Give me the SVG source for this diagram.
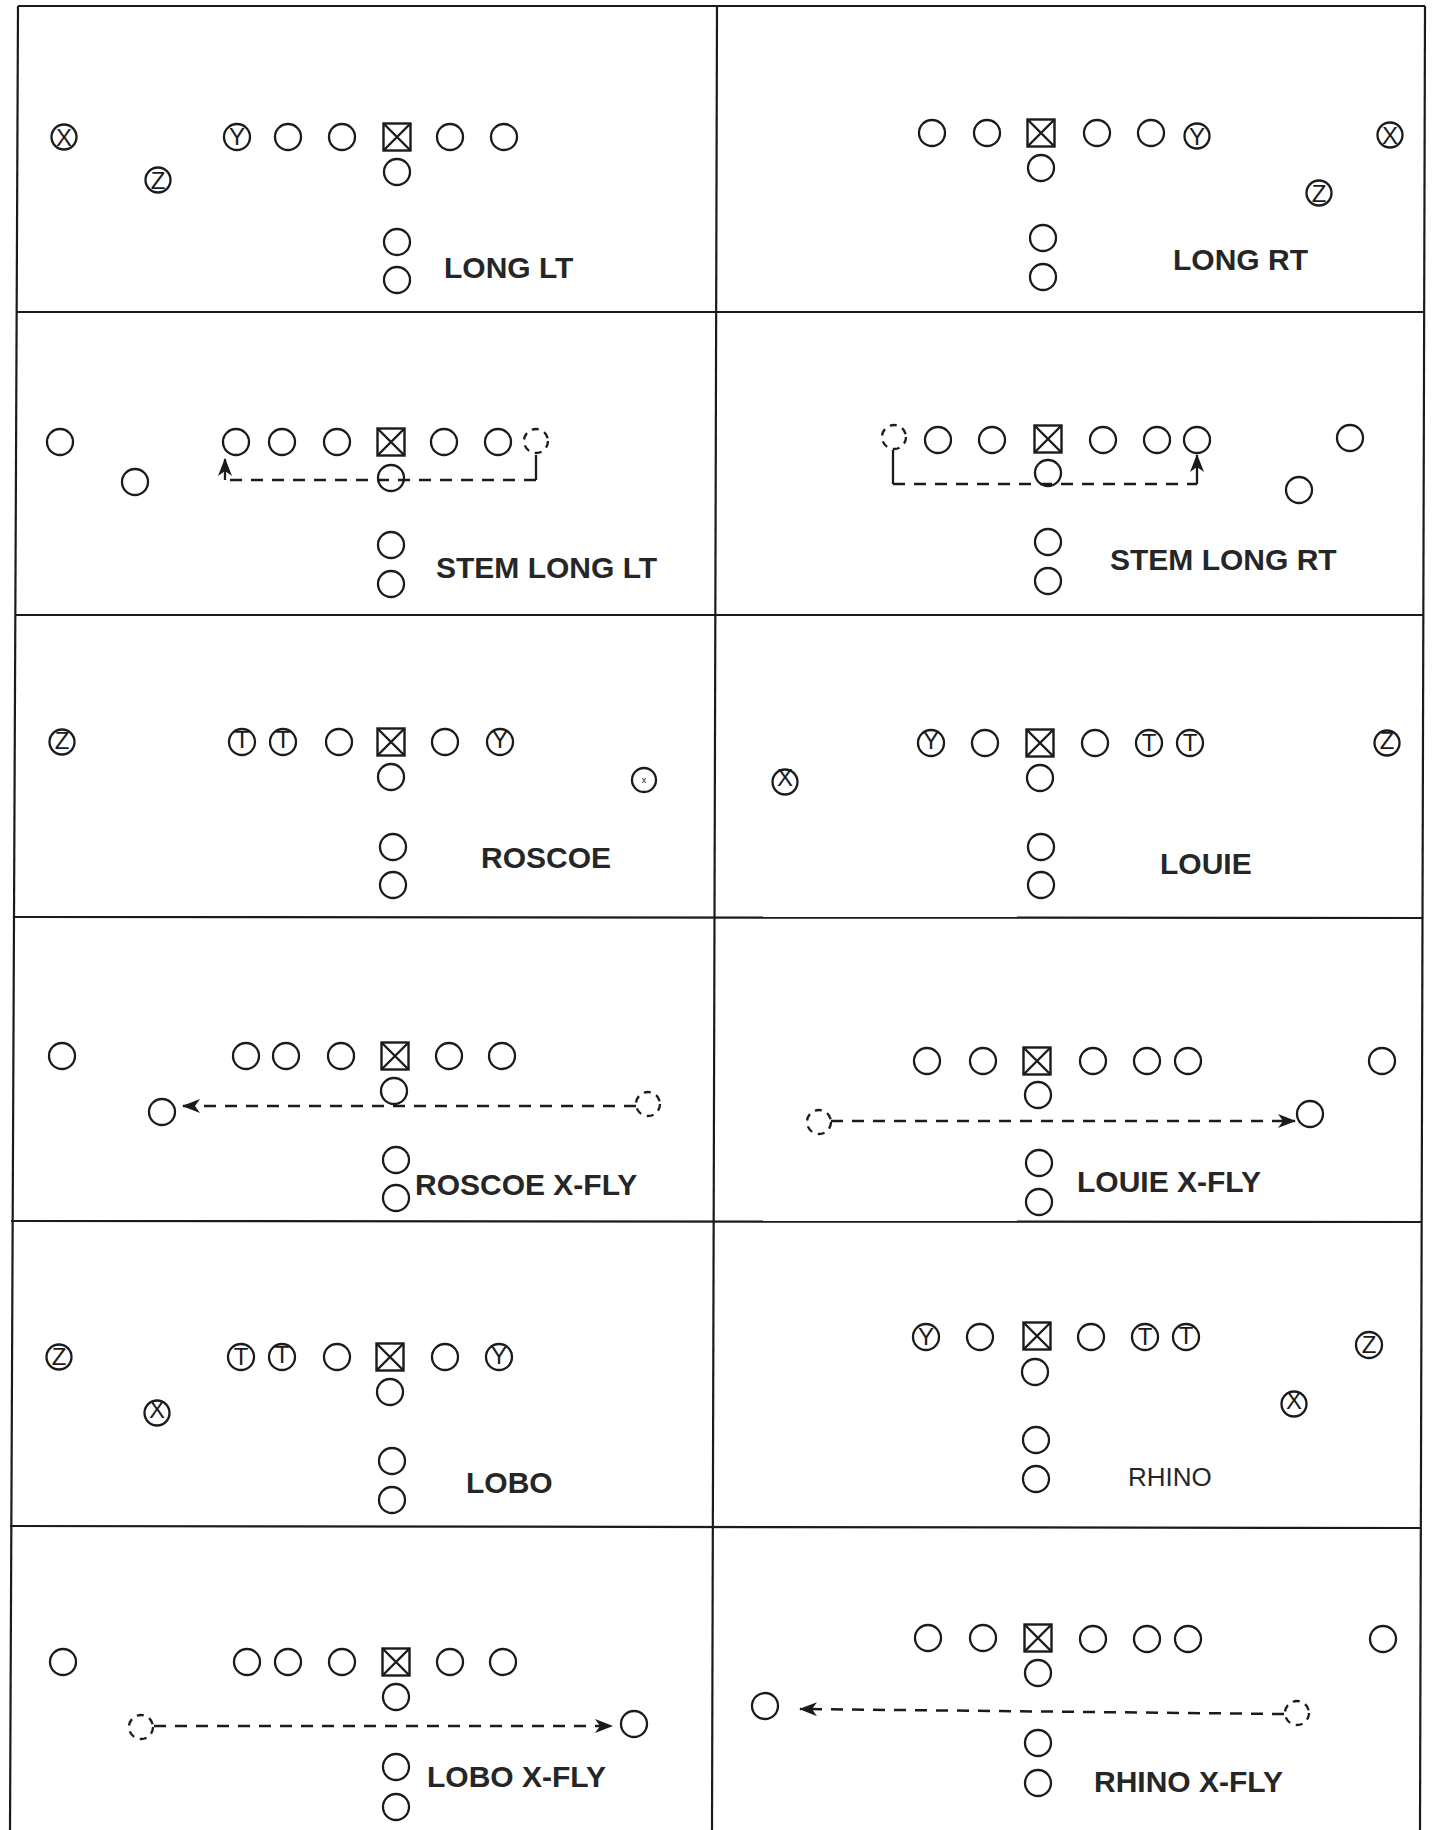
<svg xmlns="http://www.w3.org/2000/svg" width="1434" height="1830" viewBox="0 0 1434 1830">
<style>
.o{fill:none;stroke:#1b1b1b;stroke-width:2.3}
.dc{fill:none;stroke:#1b1b1b;stroke-width:2.3;stroke-dasharray:7 6}
.sq{fill:none;stroke:#1b1b1b;stroke-width:2.4}
.lt{font-family:'Liberation Sans',Arial,sans-serif;font-size:24px;fill:#1b1b1b;text-anchor:middle}
.sm{font-family:'Liberation Sans',Arial,sans-serif;font-size:9px;fill:#1b1b1b;text-anchor:middle}
.lb{font-family:'Liberation Sans',Arial,sans-serif;font-size:30px;font-weight:bold;fill:#262626}
.lr{font-family:'Liberation Sans',Arial,sans-serif;font-size:26px;fill:#262626}
.rt{fill:none;stroke:#1b1b1b;stroke-width:2.5;stroke-dasharray:12 9}
.rs{fill:none;stroke:#1b1b1b;stroke-width:2.3}
.fr{stroke:#1b1b1b;stroke-width:2.2;fill:none}
</style>
<defs>
<marker id="ah" viewBox="0 0 18 14" refX="17" refY="7" markerWidth="18" markerHeight="14" markerUnits="userSpaceOnUse" orient="auto"><path d="M0,0 L18,7 L0,14 L5,7 z" fill="#1b1b1b"/></marker>
<g id="sqm"><rect x="-13.5" y="-13.5" width="27" height="27"/><path d="M-13.5,-13.5 L13.5,13.5 M13.5,-13.5 L-13.5,13.5"/></g>
</defs>
<rect width="1434" height="1830" fill="#fff"/>
<g id="frame" class="fr">
<path d="M18,6 L1425,6"/>
<path d="M18,6 L10,1830"/>
<path d="M717,6 L712,1830"/>
<path d="M1425,6 L1420,1830"/>
<path d="M17,312 L1425,312"/>
<path d="M16,615 L1424,615"/>
<path d="M14,917 L1423,918"/>
<path d="M11,1221 L1422,1222"/>
<path d="M10,1526 L1421,1528"/>
</g>

<g id="connectors">
<path class="rt" d="M536,480 H225"/>
<path class="rs" d="M536,455 V480"/>
<path class="rs" d="M225,480 V459" marker-end="url(#ah)"/>
<path class="rt" d="M893,484 H1197"/>
<path class="rs" d="M893,450 V484"/>
<path class="rs" d="M1197,484 V455" marker-end="url(#ah)"/>
<path class="rt" d="M636,1106 H183" marker-end="url(#ah)"/>
<path class="rt" d="M831,1121 H1295" marker-end="url(#ah)"/>
<path class="rt" d="M154,1726 H612" marker-end="url(#ah)"/>
<path class="rt" d="M1284,1714 L800,1709" marker-end="url(#ah)"/>
</g>

<!-- Panel 1 LONG LT -->
<g id="p1">
<g id="p1-x"><circle class="o" cx="64" cy="137" r="12.5"/><text class="lt" x="64" y="145.5">X</text></g>
<g id="p1-z"><circle class="o" cx="158" cy="180" r="12.5"/><text class="lt" x="158" y="188.5">Z</text></g>
<g id="p1-y"><circle class="o" cx="237" cy="137" r="13"/><text class="lt" x="237" y="145">Y</text></g>
<g id="p1-o1"><circle class="o" cx="288" cy="137" r="13"/></g>
<g id="p1-o2"><circle class="o" cx="342" cy="137" r="13"/></g>
<g id="p1-c"><use href="#sqm" class="sq" x="397" y="137"/></g>
<g id="p1-o3"><circle class="o" cx="450" cy="137" r="13"/></g>
<g id="p1-o4"><circle class="o" cx="504" cy="137" r="13"/></g>
<g id="p1-q"><circle class="o" cx="397" cy="172" r="13"/></g>
<g id="p1-b1"><circle class="o" cx="397" cy="242" r="13"/></g>
<g id="p1-b2"><circle class="o" cx="397" cy="280" r="13"/></g>
<text id="p1-label" class="lb" x="444" y="278">LONG LT</text>
</g>

<!-- Panel 2 LONG RT -->
<g id="p2">
<g id="p2-o1"><circle class="o" cx="932" cy="133" r="13"/></g>
<g id="p2-o2"><circle class="o" cx="987" cy="133" r="13"/></g>
<g id="p2-c"><use href="#sqm" class="sq" x="1041" y="133"/></g>
<g id="p2-o3"><circle class="o" cx="1097" cy="133" r="13"/></g>
<g id="p2-o4"><circle class="o" cx="1151" cy="133" r="13"/></g>
<g id="p2-y"><circle class="o" cx="1197" cy="136" r="12.5"/><text class="lt" x="1197" y="144.5">Y</text></g>
<g id="p2-x"><circle class="o" cx="1390" cy="135" r="12.5"/><text class="lt" x="1390" y="143.5">X</text></g>
<g id="p2-z"><circle class="o" cx="1319" cy="193" r="12.5"/><text class="lt" x="1319" y="201.5">Z</text></g>
<g id="p2-q"><circle class="o" cx="1041" cy="168" r="13"/></g>
<g id="p2-b1"><circle class="o" cx="1043" cy="238" r="13"/></g>
<g id="p2-b2"><circle class="o" cx="1043" cy="277" r="13"/></g>
<text id="p2-label" class="lb" x="1173" y="270">LONG RT</text>
</g>

<!-- Panel 3 STEM LONG LT -->
<g id="p3">
<g id="p3-w1"><circle class="o" cx="60" cy="442" r="13"/></g>
<g id="p3-w2"><circle class="o" cx="135" cy="482" r="13"/></g>
<g id="p3-o1"><circle class="o" cx="236" cy="442" r="13"/></g>
<g id="p3-o2"><circle class="o" cx="282" cy="442" r="13"/></g>
<g id="p3-o3"><circle class="o" cx="337" cy="442" r="13"/></g>
<g id="p3-c"><use href="#sqm" class="sq" x="391" y="442"/></g>
<g id="p3-o4"><circle class="o" cx="444" cy="442" r="13"/></g>
<g id="p3-o5"><circle class="o" cx="498" cy="442" r="13"/></g>
<g id="p3-ghost"><circle class="dc" cx="536" cy="441" r="12"/></g>
<g id="p3-q"><circle class="o" cx="391" cy="478" r="13"/></g>
<g id="p3-b1"><circle class="o" cx="391" cy="545" r="13"/></g>
<g id="p3-b2"><circle class="o" cx="391" cy="584" r="13"/></g>
<text id="p3-label" class="lb" x="436" y="578">STEM LONG LT</text>
</g>

<!-- Panel 4 STEM LONG RT -->
<g id="p4">
<g id="p4-ghost"><circle class="dc" cx="894" cy="437" r="12"/></g>
<g id="p4-o1"><circle class="o" cx="938" cy="440" r="13"/></g>
<g id="p4-o2"><circle class="o" cx="992" cy="440" r="13"/></g>
<g id="p4-c"><use href="#sqm" class="sq" x="1048" y="439"/></g>
<g id="p4-o3"><circle class="o" cx="1103" cy="440" r="13"/></g>
<g id="p4-o4"><circle class="o" cx="1157" cy="440" r="13"/></g>
<g id="p4-o5"><circle class="o" cx="1197" cy="440" r="13"/></g>
<g id="p4-w1"><circle class="o" cx="1350" cy="438" r="13"/></g>
<g id="p4-w2"><circle class="o" cx="1299" cy="490" r="13"/></g>
<g id="p4-q"><circle class="o" cx="1048" cy="473" r="13"/></g>
<g id="p4-b1"><circle class="o" cx="1048" cy="542" r="13"/></g>
<g id="p4-b2"><circle class="o" cx="1048" cy="581" r="13"/></g>
<text id="p4-label" class="lb" x="1110" y="570">STEM LONG RT</text>
</g>

<!-- Panel 5 ROSCOE -->
<g id="p5">
<g id="p5-z"><circle class="o" cx="62" cy="742" r="12.5"/><text class="lt" x="62" y="749">Z</text></g>
<g id="p5-t1"><circle class="o" cx="242" cy="742" r="13"/><text class="lt" x="242" y="748">T</text></g>
<g id="p5-t2"><circle class="o" cx="283" cy="742" r="13"/><text class="lt" x="283" y="748">T</text></g>
<g id="p5-o1"><circle class="o" cx="339" cy="742" r="13"/></g>
<g id="p5-c"><use href="#sqm" class="sq" x="391" y="742"/></g>
<g id="p5-o2"><circle class="o" cx="445" cy="742" r="13"/></g>
<g id="p5-y"><circle class="o" cx="500" cy="742" r="13"/><text class="lt" x="500" y="748">Y</text></g>
<g id="p5-x"><circle class="o" cx="644" cy="780" r="12"/><text class="sm" x="644" y="783">x</text></g>
<g id="p5-q"><circle class="o" cx="391" cy="777" r="13"/></g>
<g id="p5-b1"><circle class="o" cx="393" cy="847" r="13"/></g>
<g id="p5-b2"><circle class="o" cx="393" cy="885" r="13"/></g>
<text id="p5-label" class="lb" x="481" y="868">ROSCOE</text>
</g>

<!-- Panel 6 LOUIE -->
<g id="p6">
<g id="p6-y"><circle class="o" cx="931" cy="743" r="13"/><text class="lt" x="931" y="749">Y</text></g>
<g id="p6-o1"><circle class="o" cx="985" cy="743" r="13"/></g>
<g id="p6-c"><use href="#sqm" class="sq" x="1040" y="743"/></g>
<g id="p6-o2"><circle class="o" cx="1095" cy="743" r="13"/></g>
<g id="p6-t1"><circle class="o" cx="1149" cy="743" r="13"/><text class="lt" x="1149" y="751">T</text></g>
<g id="p6-t2"><circle class="o" cx="1190" cy="743" r="13"/><text class="lt" x="1190" y="751">T</text></g>
<g id="p6-z"><circle class="o" cx="1387" cy="743" r="12.5"/><text class="lt" x="1387" y="749">Z</text></g>
<g id="p6-x"><circle class="o" cx="785" cy="782" r="12.5"/><text class="lt" x="785" y="786">X</text></g>
<g id="p6-q"><circle class="o" cx="1040" cy="778" r="13"/></g>
<g id="p6-b1"><circle class="o" cx="1041" cy="847" r="13"/></g>
<g id="p6-b2"><circle class="o" cx="1041" cy="885" r="13"/></g>
<text id="p6-label" class="lb" x="1160" y="874">LOUIE</text>
</g>

<!-- Panel 7 ROSCOE X-FLY -->
<g id="p7">
<g id="p7-w1"><circle class="o" cx="62" cy="1056" r="13"/></g>
<g id="p7-o1"><circle class="o" cx="246" cy="1056" r="13"/></g>
<g id="p7-o2"><circle class="o" cx="286" cy="1056" r="13"/></g>
<g id="p7-o3"><circle class="o" cx="341" cy="1056" r="13"/></g>
<g id="p7-c"><use href="#sqm" class="sq" x="395" y="1056"/></g>
<g id="p7-o4"><circle class="o" cx="449" cy="1056" r="13"/></g>
<g id="p7-o5"><circle class="o" cx="502" cy="1056" r="13"/></g>
<g id="p7-q"><circle class="o" cx="394" cy="1091" r="13"/></g>
<g id="p7-x"><circle class="o" cx="162" cy="1112" r="13"/></g>
<g id="p7-ghost"><circle class="dc" cx="648" cy="1104" r="12"/></g>
<g id="p7-b1"><circle class="o" cx="396" cy="1160" r="13"/></g>
<g id="p7-b2"><circle class="o" cx="396" cy="1198" r="13"/></g>
<text id="p7-label" class="lb" x="415" y="1195">ROSCOE X-FLY</text>
</g>

<!-- Panel 8 LOUIE X-FLY -->
<g id="p8">
<g id="p8-o1"><circle class="o" cx="927" cy="1061" r="13"/></g>
<g id="p8-o2"><circle class="o" cx="983" cy="1061" r="13"/></g>
<g id="p8-c"><use href="#sqm" class="sq" x="1037" y="1061"/></g>
<g id="p8-o3"><circle class="o" cx="1093" cy="1061" r="13"/></g>
<g id="p8-o4"><circle class="o" cx="1147" cy="1061" r="13"/></g>
<g id="p8-o5"><circle class="o" cx="1188" cy="1061" r="13"/></g>
<g id="p8-w1"><circle class="o" cx="1382" cy="1061" r="13"/></g>
<g id="p8-q"><circle class="o" cx="1038" cy="1095" r="13"/></g>
<g id="p8-x"><circle class="o" cx="1310" cy="1114" r="13"/></g>
<g id="p8-ghost"><circle class="dc" cx="819" cy="1122" r="12"/></g>
<g id="p8-b1"><circle class="o" cx="1039" cy="1163" r="13"/></g>
<g id="p8-b2"><circle class="o" cx="1039" cy="1202" r="13"/></g>
<text id="p8-label" class="lb" x="1077" y="1192">LOUIE X-FLY</text>
</g>

<!-- Panel 9 LOBO -->
<g id="p9">
<g id="p9-z"><circle class="o" cx="59" cy="1357" r="12.5"/><text class="lt" x="59" y="1365">Z</text></g>
<g id="p9-t1"><circle class="o" cx="241" cy="1357" r="13"/><text class="lt" x="241" y="1365">T</text></g>
<g id="p9-t2"><circle class="o" cx="282" cy="1357" r="13"/><text class="lt" x="282" y="1363">T</text></g>
<g id="p9-o1"><circle class="o" cx="337" cy="1357" r="13"/></g>
<g id="p9-c"><use href="#sqm" class="sq" x="390" y="1357"/></g>
<g id="p9-o2"><circle class="o" cx="445" cy="1357" r="13"/></g>
<g id="p9-y"><circle class="o" cx="499" cy="1357" r="13"/><text class="lt" x="499" y="1364">Y</text></g>
<g id="p9-x"><circle class="o" cx="157" cy="1413" r="12.5"/><text class="lt" x="157" y="1418">X</text></g>
<g id="p9-q"><circle class="o" cx="390" cy="1392" r="13"/></g>
<g id="p9-b1"><circle class="o" cx="392" cy="1461" r="13"/></g>
<g id="p9-b2"><circle class="o" cx="392" cy="1500" r="13"/></g>
<text id="p9-label" class="lb" x="466" y="1493">LOBO</text>
</g>

<!-- Panel 10 RHINO -->
<g id="p10">
<g id="p10-y"><circle class="o" cx="926" cy="1337" r="13"/><text class="lt" x="926" y="1345">Y</text></g>
<g id="p10-o1"><circle class="o" cx="980" cy="1337" r="13"/></g>
<g id="p10-c"><use href="#sqm" class="sq" x="1037" y="1336"/></g>
<g id="p10-o2"><circle class="o" cx="1091" cy="1337" r="13"/></g>
<g id="p10-t1"><circle class="o" cx="1145" cy="1337" r="13"/><text class="lt" x="1145" y="1345">T</text></g>
<g id="p10-t2"><circle class="o" cx="1186" cy="1337" r="13"/><text class="lt" x="1186" y="1344">T</text></g>
<g id="p10-z"><circle class="o" cx="1369" cy="1345" r="13"/><text class="lt" x="1369" y="1353">Z</text></g>
<g id="p10-x"><circle class="o" cx="1294" cy="1404" r="12.5"/><text class="lt" x="1294" y="1409">X</text></g>
<g id="p10-q"><circle class="o" cx="1035" cy="1372" r="13"/></g>
<g id="p10-b1"><circle class="o" cx="1036" cy="1440" r="13"/></g>
<g id="p10-b2"><circle class="o" cx="1036" cy="1479" r="13"/></g>
<text id="p10-label" class="lr" x="1128" y="1486">RHINO</text>
</g>

<!-- Panel 11 LOBO X-FLY -->
<g id="p11">
<g id="p11-w1"><circle class="o" cx="63" cy="1662" r="13"/></g>
<g id="p11-o1"><circle class="o" cx="247" cy="1662" r="13"/></g>
<g id="p11-o2"><circle class="o" cx="288" cy="1662" r="13"/></g>
<g id="p11-o3"><circle class="o" cx="342" cy="1662" r="13"/></g>
<g id="p11-c"><use href="#sqm" class="sq" x="396" y="1662"/></g>
<g id="p11-o4"><circle class="o" cx="450" cy="1662" r="13"/></g>
<g id="p11-o5"><circle class="o" cx="503" cy="1662" r="13"/></g>
<g id="p11-q"><circle class="o" cx="396" cy="1697" r="13"/></g>
<g id="p11-x"><circle class="o" cx="634" cy="1724" r="13"/></g>
<g id="p11-ghost"><circle class="dc" cx="141" cy="1727" r="12"/></g>
<g id="p11-b1"><circle class="o" cx="396" cy="1767" r="13"/></g>
<g id="p11-b2"><circle class="o" cx="396" cy="1807" r="13"/></g>
<text id="p11-label" class="lb" x="427" y="1787">LOBO X-FLY</text>
</g>

<!-- Panel 12 RHINO X-FLY -->
<g id="p12">
<g id="p12-o1"><circle class="o" cx="928" cy="1638" r="13"/></g>
<g id="p12-o2"><circle class="o" cx="983" cy="1638" r="13"/></g>
<g id="p12-c"><use href="#sqm" class="sq" x="1038" y="1638"/></g>
<g id="p12-o3"><circle class="o" cx="1093" cy="1639" r="13"/></g>
<g id="p12-o4"><circle class="o" cx="1147" cy="1639" r="13"/></g>
<g id="p12-o5"><circle class="o" cx="1188" cy="1639" r="13"/></g>
<g id="p12-w1"><circle class="o" cx="1383" cy="1639" r="13"/></g>
<g id="p12-q"><circle class="o" cx="1038" cy="1673" r="13"/></g>
<g id="p12-x"><circle class="o" cx="765" cy="1706" r="13"/></g>
<g id="p12-ghost"><circle class="dc" cx="1297" cy="1713" r="12"/></g>
<g id="p12-b1"><circle class="o" cx="1038" cy="1743" r="13"/></g>
<g id="p12-b2"><circle class="o" cx="1038" cy="1783" r="13"/></g>
<text id="p12-label" class="lb" x="1094" y="1792">RHINO X-FLY</text>
</g>
</svg>
